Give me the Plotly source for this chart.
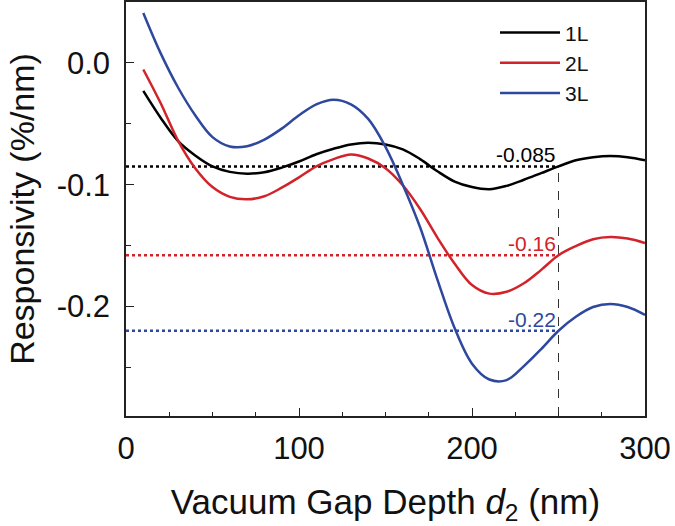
import plotly.graph_objects as go

# ---- data ----
d2 = [10, 20, 30, 40, 50, 60, 70, 80, 90, 100, 110, 120, 130, 140, 150,
      160, 170, 180, 190, 200, 210, 220, 230, 240, 250, 260, 270, 280, 290, 300]

r_1L = [-0.023, -0.045, -0.064, -0.076, -0.085, -0.0895, -0.091, -0.0898, -0.086, -0.081,
        -0.075, -0.0705, -0.067, -0.0656, -0.067, -0.071, -0.079, -0.089, -0.0975, -0.102,
        -0.1038, -0.101, -0.096, -0.0905, -0.085, -0.080, -0.0775, -0.0765, -0.0775, -0.080]

r_2L = [-0.0054, -0.033, -0.0636, -0.0865, -0.102, -0.110, -0.112, -0.1095, -0.1025, -0.094,
        -0.085, -0.079, -0.0752, -0.0785, -0.0865, -0.1005, -0.120, -0.1435, -0.165, -0.1825,
        -0.1895, -0.188, -0.181, -0.170, -0.158, -0.1505, -0.1448, -0.143, -0.1443, -0.148]

r_3L = [0.041, 0.008, -0.020, -0.043, -0.061, -0.0687, -0.0685, -0.063, -0.054, -0.043,
        -0.034, -0.0302, -0.034, -0.046, -0.069, -0.100, -0.135, -0.178, -0.218, -0.247,
        -0.260, -0.2605, -0.249, -0.235, -0.220, -0.2085, -0.2005, -0.198, -0.2005, -0.207]

series_names = ["1L", "2L", "3L"]
series_values = [r_1L, r_2L, r_3L]
colors = ["#000000", "#D2232A", "#2E489E"]

marker_d2 = 250
marker_values = [-0.085, -0.158, -0.22]
marker_labels = ["-0.085", "-0.16", "-0.22"]

y_tickvals = [0.0, -0.1, -0.2]
y_ticktext = ["0.0", "-0.1", "-0.2"]
x_tickvals = [0, 100, 200, 300]
x_ticktext = ["0", "100", "200", "300"]

FONT = "Liberation Sans, Arial, sans-serif"

fig = go.Figure()

# dotted reference lines (drawn first, below curves)
for v, c in zip(marker_values, colors):
    fig.add_trace(go.Scatter(x=[0, marker_d2], y=[v, v], mode="lines",
                             line=dict(color=c, width=2.5, dash="dot"),
                             showlegend=False, hoverinfo="skip"))

# vertical dashed line at d2 = 250
fig.add_trace(go.Scatter(x=[marker_d2, marker_d2], y=[-0.29, marker_values[0]], mode="lines",
                         line=dict(color="#333333", width=1, dash="dash"),
                         showlegend=False, hoverinfo="skip"))

for name, vals, c in zip(series_names, series_values, colors):
    fig.add_trace(go.Scatter(x=d2, y=vals, mode="lines", name=name,
                             line=dict(color=c, width=2.5, shape="spline", smoothing=1.0)))

for v, lab, c in zip(marker_values, marker_labels, colors):
    fig.add_annotation(x=249.5, y=v + 0.0095, text=lab, showarrow=False, xanchor="right",
                       yanchor="middle", font=dict(family=FONT, size=21, color=c))

fig.update_layout(
    width=675, height=526,
    margin=dict(l=126, r=30, t=2, b=110),
    paper_bgcolor="white", plot_bgcolor="white",
    font=dict(family=FONT, color="#111111"),
    legend=dict(x=0.711, y=0.975, xanchor="left", yanchor="top",
                bgcolor="rgba(0,0,0,0)", font=dict(family=FONT, size=21),
                itemwidth=60, tracegroupgap=0),
    xaxis=dict(range=[0, 300], tickvals=x_tickvals, ticktext=x_ticktext, automargin=False,
               ticks="inside", ticklen=8, tickwidth=1.2, tickcolor="#222",
               minor=dict(ticks="inside", ticklen=4, dtick=25, tick0=0, tickcolor="#222", tickwidth=1.2),
               showline=True, linecolor="#222", linewidth=1.5, mirror=True,
               showgrid=False, zeroline=False, ticklabelstandoff=4,
               tickfont=dict(family=FONT, size=31, color="#111"),
               title=dict(text="Vacuum Gap Depth <i>d</i><sub>2</sub> (nm)",
                          font=dict(family=FONT, size=35, color="#111"), standoff=40)),
    yaxis=dict(range=[-0.29, 0.05], tickvals=y_tickvals, ticktext=y_ticktext, automargin=False,
               ticks="inside", ticklen=8, tickwidth=1.2, tickcolor="#222",
               minor=dict(ticks="inside", ticklen=5, dtick=0.05, tick0=0, tickcolor="#222", tickwidth=1.2),
               showline=True, linecolor="#222", linewidth=1.5, mirror=True,
               showgrid=False, zeroline=False, ticklabelstandoff=8,
               tickfont=dict(family=FONT, size=31, color="#111"),
               title=dict(text="Responsivity (%/nm)",
                          font=dict(family=FONT, size=34, color="#111"), standoff=12)),
)

fig.write_html("out.html", config={"displayModeBar": False},
               post_script="document.body.style.margin='0';")
